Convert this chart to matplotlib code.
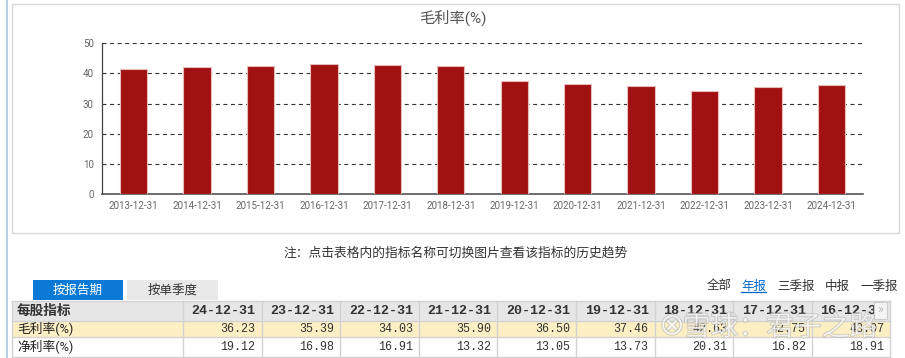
import numpy as np
import matplotlib
matplotlib.use("Agg")
import matplotlib.pyplot as plt
from matplotlib.patches import Rectangle
import matplotlib.patheffects as pe

plt.rcParams['font.family'] = ['Roboto', 'Noto Sans CJK SC', 'DejaVu Sans']

# chart data
chart_years = ["2013-12-31", "2014-12-31", "2015-12-31", "2016-12-31", "2017-12-31", "2018-12-31",
               "2019-12-31", "2020-12-31", "2021-12-31", "2022-12-31", "2023-12-31", "2024-12-31"]
chart_values = [41.4, 42.3, 42.45, 43.07, 42.75, 42.63, 37.46, 36.50, 35.90, 34.03, 35.39, 36.23]
y_ticks = [0, 10, 20, 30, 40, 50]

# table data
table_dates = ["24-12-31", "23-12-31", "22-12-31", "21-12-31", "20-12-31",
               "19-12-31", "18-12-31", "17-12-31", "16-12-31"]
gross_margin = ["36.23", "35.39", "34.03", "35.90", "36.50", "37.46", "42.63", "42.75", "43.07"]
net_margin = ["19.12", "16.98", "16.91", "13.32", "13.05", "13.73", "20.31", "16.82", "18.91"]
row_names = ["毛利率(%)", "净利率(%)"]
period_links = ["全部", "年报", "三季报", "中报", "一季报"]

W, H = 905, 358
fig = plt.figure(figsize=(W / 100, H / 100), dpi=100)

# page layer in pixel coords
page = fig.add_axes([0, 0, 1, 1], zorder=0)
page.set_xlim(0, W)
page.set_ylim(H, 0)
page.axis('off')

page.plot([6.5, 6.5], [0, H], color='#a9c6de', lw=1.2)
page.add_patch(Rectangle((11.5, 3.5), 887.5, 229.5, fill=False, ec='#d9d9d9', lw=1))

page.text(453, 18, "毛利率(%)", ha='center', va='center', fontsize=11, color='#555555')
page.text(456, 253, "注：点击表格内的指标名称可切换图片查看该指标的历史趋势",
          ha='center', va='center', fontsize=9.2, color='#333333')

# tabs
page.add_patch(Rectangle((33, 280), 90, 20, color='#0a7ad6', lw=0))
page.text(78, 290, "按报告期", ha='center', va='center', fontsize=9, color='white')
page.add_patch(Rectangle((127, 280), 91, 20, color='#e9e9e9', lw=0))
page.text(172.5, 290, "按单季度", ha='center', va='center', fontsize=9, color='#333333')

link_x = [707, 741, 777, 825, 860]
for lx, name in zip(link_x, period_links):
    col = '#0066cc' if name == "年报" else '#333333'
    page.text(lx, 286, name, ha='left', va='center', fontsize=9, color=col)
page.plot([741, 766], [292, 292], color='#0066cc', lw=0.9)

# table
col_edges = [11.5, 183] + [183 + 78.6 * (i + 1) for i in range(len(table_dates))]
col_edges[-1] = 890
row_edges = [300.7, 320.7, 336.7, 356.7]
page.add_patch(Rectangle((11.5, row_edges[0]), 878.5, row_edges[1] - row_edges[0], color='#e6e6e6', lw=0))
page.add_patch(Rectangle((11.5, row_edges[1]), 878.5, row_edges[2] - row_edges[1], color='#fdefc4', lw=0))
for yv in row_edges:
    page.plot([11.5, 890], [yv, yv], color='#d2d2d2', lw=1)
for xv in col_edges:
    page.plot([xv, xv], [row_edges[0], row_edges[-1]], color='#d2d2d2', lw=1)

page.text(17, 311, "每股指标", ha='left', va='center', fontsize=9.8, fontweight='bold', color='#333333')
for i, d in enumerate(table_dates):
    page.text(col_edges[i + 2] - 6, 311.5, d, ha='right', va='center', fontsize=9.6,
              fontweight='bold', family=['Liberation Mono'], color='#333333')
for r, (name, vals) in enumerate(zip(row_names, [gross_margin, net_margin])):
    yc = (row_edges[r + 1] + row_edges[r + 2]) / 2
    page.text(17, yc, name, ha='left', va='center', fontsize=9.2, color='#222222')
    for i, v in enumerate(vals):
        page.text(col_edges[i + 2] - 6, yc, v, ha='right', va='center', fontsize=8.4,
                  family=['Liberation Mono'], color='#333333')

# scroll button covering the last header
page.add_patch(Rectangle((874, 302), 12.5, 16.5, fc='#f4f4f4', ec='#cccccc', lw=0.8, zorder=3))
page.text(880.2, 310, "»", ha='center', va='center', fontsize=9, color='#bbbbbb', zorder=4)

# watermark
halo = [pe.withStroke(linewidth=1.0, foreground='#a0a0a0', alpha=0.5)]
page.text(780, 328, "雪球：君子之路", ha='center', va='center', fontsize=20, color='white',
          alpha=0.55, zorder=5, path_effects=halo)
page.text(672, 326, "⊗", ha='center', va='center', fontsize=22, color='white', alpha=0.55, zorder=5,
          family=['DejaVu Sans'], path_effects=halo)

# bar chart
ax = fig.add_axes([102 / W, (H - 194) / H, (863 - 102) / W, (194 - 43.3) / H], zorder=1)
ax.patch.set_alpha(0)
x = np.arange(len(chart_years))
ax.bar(x, chart_values, width=0.43, color='#a01212', edgecolor='#eab9b9', lw=0.8, zorder=3)
ax.set_xlim(-0.5, len(chart_years) - 0.5)
ax.set_ylim(0, 50)
ax.set_yticks(y_ticks)
ax.set_xticks(x)
ax.set_xticklabels(chart_years)
ax.tick_params(axis='both', length=0, labelsize=7, colors='#666666')
ax.tick_params(axis='y', pad=6)
ax.tick_params(axis='x', pad=5)
ax.yaxis.grid(True, color='#333333', lw=0.8, linestyle=(0, (3.6, 3.2)), zorder=0)
for s in ['top', 'right']:
    ax.spines[s].set_visible(False)
ax.spines['left'].set_color('#444444')
ax.spines['left'].set_linewidth(0.9)
ax.spines['bottom'].set_color('#555555')
ax.spines['bottom'].set_linewidth(1.2)

fig.savefig("out.png", dpi=100)
